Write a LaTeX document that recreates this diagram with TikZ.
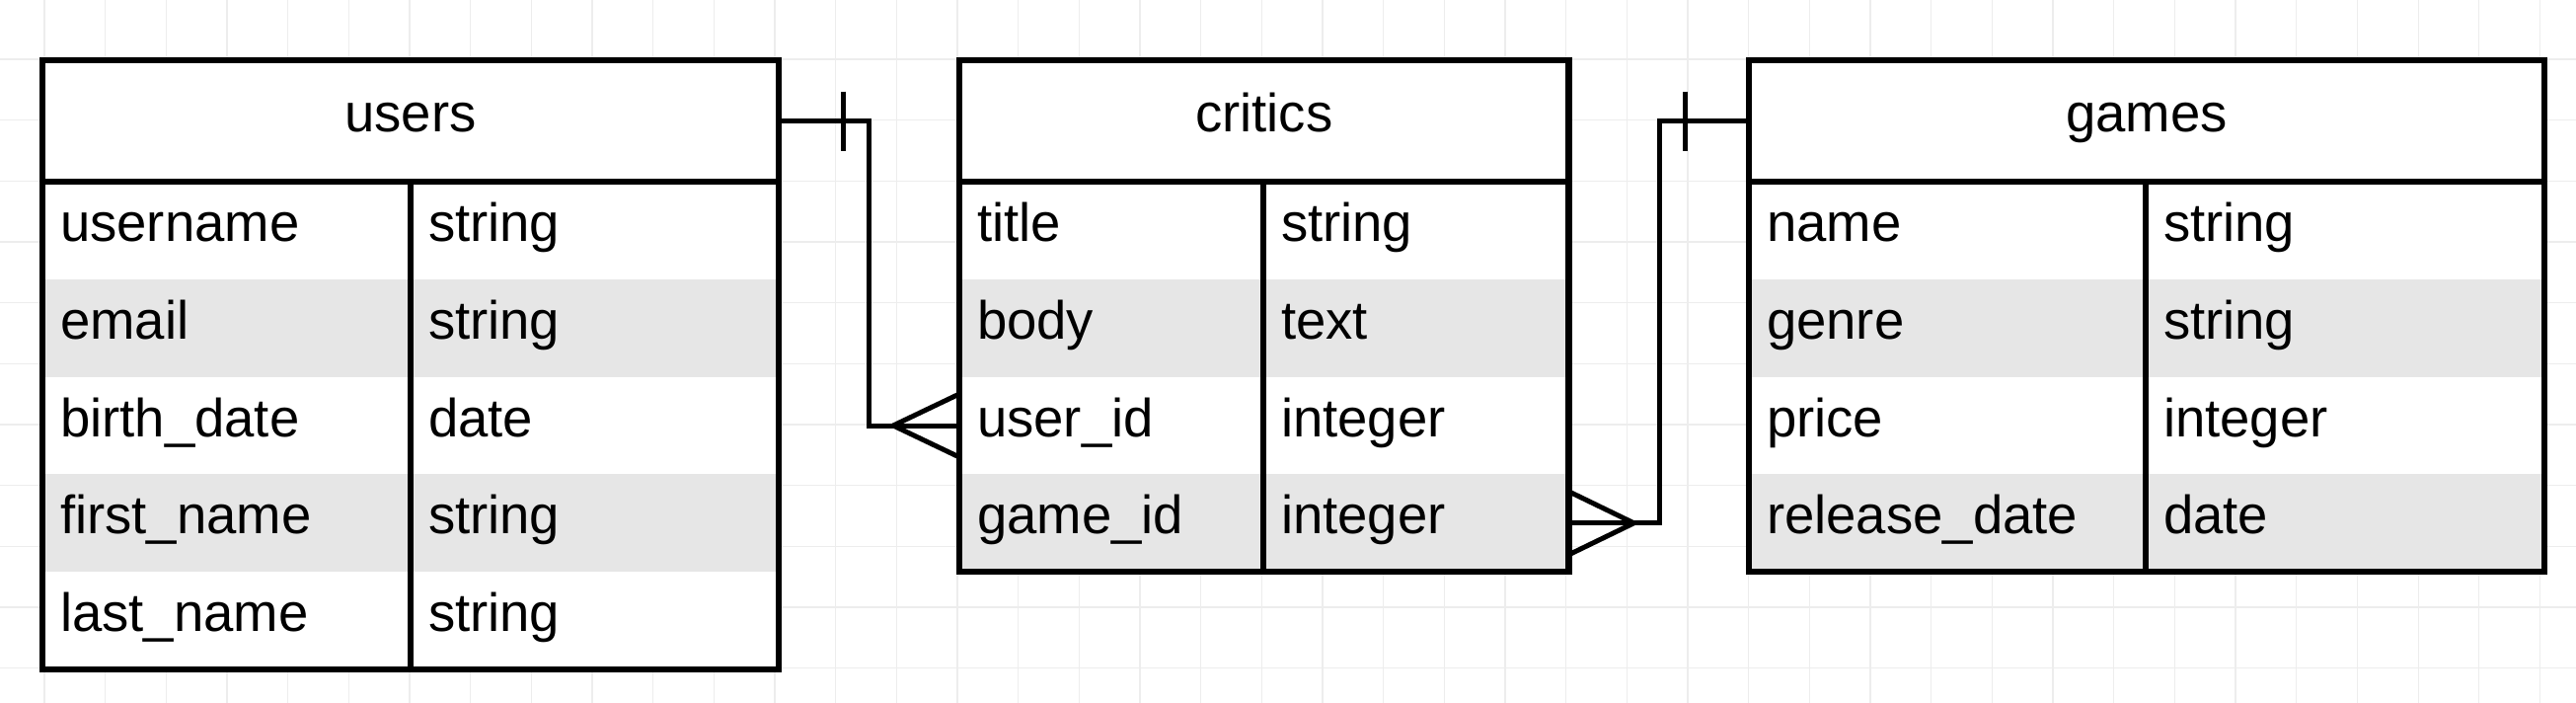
\documentclass[tikz,border=0pt]{standalone}
\usepackage{fontspec}
\setmainfont{Liberation Sans}
\usepackage{tikz}

\definecolor{rowgray}{HTML}{E6E6E6}
\definecolor{gridgray}{HTML}{EDEDED}

\tikzset{
  every node/.style={font=\fontsize{54.5pt}{55pt}\selectfont},
  tablehead/.style={draw, line width=6.5pt, fill=white, minimum height=123pt,
    inner sep=0pt, outer sep=0pt, text height=38.5pt, text depth=16.5pt},
  fieldcell/.style={anchor=north west, minimum height=98.8pt, inner xsep=18pt,
    inner ysep=0pt, outer sep=0pt, align=left, text height=38.5pt, text depth=16.5pt},
  whiterow/.style={fieldcell, fill=white},
  grayrow/.style={fieldcell, fill=rowgray},
  tableborder/.style={line width=6.5pt},
  relline/.style={line width=5pt},
  gridline/.style={gridgray, line width=1.3pt}
}

\begin{document}
\begin{tikzpicture}[x=1pt, y=-1pt]
        \useasboundingbox (0,0) rectangle (2610,712);
        \fill[white] (0,0) rectangle (2610,712);

        % Background grid
        \foreach \k in {0,...,41}
            \draw[gridline] ({45+61.67*\k},0) -- ({45+61.67*\k},712);
        \foreach \k in {0,...,10}
            \draw[gridline] (0,{60+61.67*\k}) -- (2610,{60+61.67*\k});

        % Table: users
        \node[tablehead, minimum width=746pt] (users) at (416, 122.5) {users};
        \node[whiterow, text width=337pt] (users-n1) at (43, 184) {username};
        \node[whiterow, text width=337pt] (users-t1) at (416, 184) {string};
        \node[grayrow, text width=337pt] (users-n2) at (43, 282.8) {email};
        \node[grayrow, text width=337pt] (users-t2) at (416, 282.8) {string};
        \node[whiterow, text width=337pt] (users-n3) at (43, 381.6) {birth\_date};
        \node[whiterow, text width=337pt] (users-t3) at (416, 381.6) {date};
        \node[grayrow, text width=337pt] (users-n4) at (43, 480.4) {first\_name};
        \node[grayrow, text width=337pt] (users-t4) at (416, 480.4) {string};
        \node[whiterow, text width=337pt] (users-n5) at (43, 579.2) {last\_name};
        \node[whiterow, text width=337pt] (users-t5) at (416, 579.2) {string};
        \draw[tableborder] (users.north west) rectangle (users-t5.south east);
        \draw[tableborder] (users.south west) -- (users.south east);
        \draw[tableborder] (users-n1.north east) -- (users-n5.south east);

        % Table: critics
        \node[tablehead, minimum width=617.5pt] (critics) at (1280.75, 122.5) {critics};
        \node[whiterow, text width=272pt] (critics-n1) at (972, 184) {title};
        \node[whiterow, text width=273.5pt] (critics-t1) at (1280, 184) {string};
        \node[grayrow, text width=272pt] (critics-n2) at (972, 282.8) {body};
        \node[grayrow, text width=273.5pt] (critics-t2) at (1280, 282.8) {text};
        \node[whiterow, text width=272pt] (critics-n3) at (972, 381.6) {user\_id};
        \node[whiterow, text width=273.5pt] (critics-t3) at (1280, 381.6) {integer};
        \node[grayrow, text width=272pt] (critics-n4) at (972, 480.4) {game\_id};
        \node[grayrow, text width=273.5pt] (critics-t4) at (1280, 480.4) {integer};
        \draw[tableborder] (critics.north west) rectangle (critics-t4.south east);
        \draw[tableborder] (critics.south west) -- (critics.south east);
        \draw[tableborder] (critics-n1.north east) -- (critics-n4.south east);

        % Table: games
        \node[tablehead, minimum width=806pt] (games) at (2175, 122.5) {games};
        \node[whiterow, text width=366pt] (games-n1) at (1772, 184) {name};
        \node[whiterow, text width=368pt] (games-t1) at (2174, 184) {string};
        \node[grayrow, text width=366pt] (games-n2) at (1772, 282.8) {genre};
        \node[grayrow, text width=368pt] (games-t2) at (2174, 282.8) {string};
        \node[whiterow, text width=366pt] (games-n3) at (1772, 381.6) {price};
        \node[whiterow, text width=368pt] (games-t3) at (2174, 381.6) {integer};
        \node[grayrow, text width=366pt] (games-n4) at (1772, 480.4) {release\_date};
        \node[grayrow, text width=368pt] (games-t4) at (2174, 480.4) {date};
        \draw[tableborder] (games.north west) rectangle (games-t4.south east);
        \draw[tableborder] (games.south west) -- (games.south east);
        \draw[tableborder] (games-n1.north east) -- (games-n4.south east);

        % users (one) to critics (many)
        \draw[relline] (users.east) -- ++(91,0) |- (critics-n3.west);
        \draw[relline] ([xshift=65pt]users.east) ++(0,-30) -- ++(0,60);
        \draw[relline] ([xshift=-67pt]critics-n3.west) -- ++(67,-32)
                       ([xshift=-67pt]critics-n3.west) -- ++(67,32);

        % games (one) to critics (many)
        \draw[relline] (games.west) -- ++(-91,0) |- (critics-t4.east);
        \draw[relline] ([xshift=-65pt]games.west) ++(0,-30) -- ++(0,60);
        \draw[relline] ([xshift=66pt]critics-t4.east) -- ++(-66,-32)
                       ([xshift=66pt]critics-t4.east) -- ++(-66,32);
    \end{tikzpicture}
\end{document}
